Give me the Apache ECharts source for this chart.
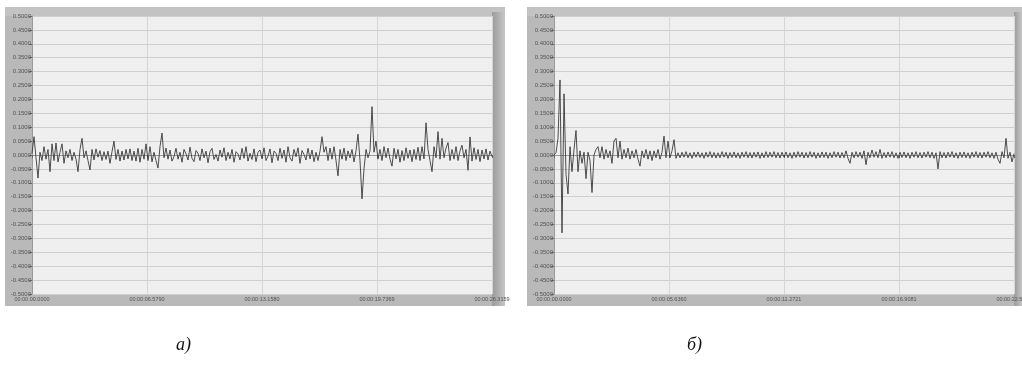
<!DOCTYPE html>
<html>
<head>
<meta charset="utf-8">
<script src="https://cdn.jsdelivr.net/npm/echarts@6/dist/echarts.min.js"></script>
<style>
html,body{margin:0;padding:0;background:#fff;}
#c{width:1022px;height:367px;}
</style>
</head>
<body>
<div id="c"></div>
<script>
// ---- data ----
const durationA = 26.3159;
const durationB = 22.5441;
const xTickLabelsA = ["00:00:00.0000","00:00:06.5790","00:00:13.1580","00:00:19.7369","00:00:26.3159"];
const xTickLabelsB = ["00:00:00.0000","00:00:05.6360","00:00:11.2721","00:00:16.9081","00:00:22.5441"];
const captions = ["а)", "б)"];
const signalA = [
 0.005, 0.066, -0.010, -0.083, 0.010, -0.020, 0.030, -0.015, 0.020, -0.060,
 0.040, -0.020, 0.043, -0.025, 0.010, 0.040, -0.030, 0.015, -0.010, 0.020,
 -0.020, 0.010, -0.015, -0.060, 0.020, 0.060, -0.010, 0.015, -0.020, -0.054,
 0.020, -0.018, 0.022, -0.008, 0.016, -0.020, 0.012, -0.016, 0.014, -0.030,
 0.012, 0.050, -0.016, 0.020, -0.022, 0.014, -0.018, 0.020, -0.014, 0.022,
 -0.020, 0.014, -0.022, 0.024, -0.026, 0.020, -0.015, 0.040, -0.020, 0.030,
 -0.025, 0.010, -0.020, -0.047, 0.030, 0.079, -0.010, 0.025, -0.015, 0.018,
 -0.022, -0.006, 0.024, -0.015, 0.010, -0.026, 0.020, 0.004, -0.018, 0.028,
 -0.012, -0.024, 0.016, 0.006, -0.020, 0.022, -0.010, 0.014, -0.028, 0.012,
 0.024, -0.016, 0.002, -0.022, 0.018, -0.008, 0.026, -0.020, 0.010, -0.014,
 0.020, -0.026, 0.012, 0.004, -0.018, 0.024, -0.012, 0.030, -0.022, 0.006,
 -0.016, 0.022, -0.024, 0.010, 0.018, -0.014, 0.026, -0.020, -0.004, 0.022,
 -0.028, 0.014, 0.006, -0.020, 0.024, -0.012, 0.018, -0.026, 0.030, -0.010,
 -0.022, 0.020, -0.006, 0.026, -0.030, 0.016, 0.002, -0.018, 0.024, -0.014,
 0.018, -0.024, 0.010, -0.020, 0.014, 0.066, 0.010, 0.030, -0.020, 0.025,
 -0.015, 0.030, -0.020, -0.075, 0.020, -0.015, 0.025, -0.020, 0.015, -0.010,
 0.020, -0.025, 0.015, 0.075, -0.020, -0.158, -0.050, 0.020, -0.010, 0.015,
 0.174, 0.010, 0.050, -0.015, 0.020, -0.020, 0.030, -0.010, 0.025, -0.015,
 -0.040, 0.024, -0.014, 0.020, -0.026, 0.016, -0.020, 0.026, -0.012, 0.018,
 -0.024, 0.020, -0.016, 0.028, -0.020, 0.030, -0.014, 0.116, 0.020, -0.020,
 -0.060, 0.030, -0.010, 0.084, -0.015, 0.060, -0.010, 0.025, 0.045, -0.020,
 0.020, -0.015, 0.030, -0.020, 0.015, 0.035, -0.010, 0.020, -0.055, 0.065,
 -0.022, 0.026, -0.016, 0.020, -0.024, 0.018, -0.014, 0.022, -0.018, 0.014,
 -0.006
];
const signalB = [
 0.000, 0.008, 0.060, 0.270, -0.280, 0.220, -0.070, -0.140, 0.030, -0.060,
 0.020, 0.088, -0.060, 0.015, -0.030, 0.010, -0.085, 0.010, -0.020, -0.135,
 0.000, 0.020, 0.030, -0.010, 0.030, -0.015, 0.020, -0.010, 0.015, -0.030,
 0.050, 0.060, -0.010, 0.050, -0.015, 0.020, -0.010, 0.025, -0.015, 0.015,
 -0.010, 0.020, -0.015, -0.040, 0.015, -0.010, 0.020, -0.015, 0.015, -0.020,
 0.015, -0.010, 0.020, -0.015, 0.010, 0.068, -0.010, 0.050, -0.010, 0.015,
 0.055, -0.012, 0.008, -0.010, 0.010, -0.008, 0.012, -0.010, 0.008, -0.012,
 0.010, -0.008, 0.011, -0.009, 0.008, -0.012, 0.010, -0.008, 0.012, -0.010,
 0.009, -0.011, 0.008, -0.010, 0.012, -0.008, 0.010, -0.012, 0.009, -0.009,
 0.011, -0.010, 0.008, -0.012, 0.010, -0.008, 0.012, -0.010, 0.009, -0.011,
 0.010, -0.008, 0.011, -0.012, 0.008, -0.010, 0.012, -0.009, 0.010, -0.008,
 0.012, -0.010, 0.009, -0.011, 0.010, -0.008, 0.011, -0.010, 0.008, -0.012,
 0.010, -0.009, 0.012, -0.008, 0.010, -0.011, 0.009, -0.010, 0.012, -0.008,
 0.010, -0.012, 0.008, -0.010, 0.011, -0.009, 0.010, -0.012, 0.008, -0.010,
 0.012, -0.008, 0.010, -0.011, 0.009, -0.010, 0.015, -0.012, -0.030, 0.010,
 -0.010, 0.012, -0.008, 0.010, -0.012, 0.015, -0.035, 0.010, -0.010, 0.018,
 -0.008, 0.012, -0.010, 0.020, -0.012, 0.009, -0.010, 0.011, -0.008, 0.012,
 -0.010, 0.008, -0.012, 0.010, -0.009, 0.011, -0.010, 0.008, -0.012, 0.010,
 -0.008, 0.012, -0.010, 0.009, -0.011, 0.010, -0.008, 0.012, -0.010, 0.010,
 -0.012, 0.008, -0.050, 0.012, -0.010, 0.009, -0.011, 0.010, -0.008, 0.012,
 -0.010, 0.008, -0.012, 0.010, -0.009, 0.011, -0.010, 0.008, -0.012, 0.010,
 -0.008, 0.012, -0.010, 0.009, -0.011, 0.010, -0.008, 0.012, -0.010, 0.008,
 -0.012, 0.010, -0.015, -0.030, 0.012, -0.010, 0.060, -0.012, 0.010, -0.025,
 0.005
];

// ---- build ----
function toPairs(arr, dur) {
  const n = arr.length;
  return arr.map((v, i) => [i * dur / (n - 1), v]);
}

const chart = echarts.init(document.getElementById('c'), null, {renderer: 'canvas'});

const labelFont = {fontFamily: 'Liberation Sans', color: '#555'};

function xAxis(idx, dur, labels) {
  const iv = dur / 4;
  return {
    type: 'value', gridIndex: idx, min: 0, max: dur, interval: iv,
    axisLine: {show: true, lineStyle: {color: '#9a9a9a', width: 1}},
    axisTick: {show: true, length: 3, lineStyle: {color: '#666'}},
    axisLabel: Object.assign({fontSize: 5.5, margin: 2, showMinLabel: true, showMaxLabel: true,
      formatter: v => labels[Math.round(v / iv)] || ''}, labelFont),
    splitLine: {show: true, lineStyle: {color: '#d6d6d6', width: 1}}
  };
}
function yAxis(idx) {
  return {
    type: 'value', gridIndex: idx, min: -0.5, max: 0.5, interval: 0.05,
    axisLine: {show: true, lineStyle: {color: '#9a9a9a', width: 1}},
    axisTick: {show: true, length: 3, lineStyle: {color: '#666'}},
    axisLabel: Object.assign({fontSize: 6, margin: 1,
      formatter: v => (Math.abs(v) < 1e-9 ? 0 : v).toFixed(4)}, labelFont),
    splitLine: {show: true, lineStyle: {color: '#cfcfcf', width: 1}}
  };
}

function frame(x, w) {
  return [
    {type: 'rect', z: -10, shape: {x: x, y: 7, width: w, height: 299}, style: {fill: '#b9b9b9'}},
    {type: 'rect', z: -9, shape: {x: x, y: 7, width: w, height: 9}, style: {fill: '#c3c3c3'}}
  ];
}
function rightBar(x, w) {
  return {type: 'rect', z: -8, shape: {x: x, y: 12, width: w, height: 294},
    style: {fill: new echarts.graphic.LinearGradient(0, 0, 1, 0, [
      {offset: 0, color: '#9c9c9c'}, {offset: 0.35, color: '#a9a9a9'}, {offset: 1, color: '#c6c6c6'}])}};
}

const option = {
  animation: false,
  backgroundColor: '#ffffff',
  grid: [
    {left: 32, top: 16, width: 460, height: 278, show: true, backgroundColor: '#efefef', borderWidth: 0, outerBoundsMode: 'none', containLabel: false},
    {left: 554, top: 16, width: 460, height: 278, show: true, backgroundColor: '#efefef', borderWidth: 0, outerBoundsMode: 'none', containLabel: false}
  ],
  xAxis: [xAxis(0, durationA, xTickLabelsA), xAxis(1, durationB, xTickLabelsB)],
  yAxis: [yAxis(0), yAxis(1)],
  graphic: [
    ...frame(5, 500), rightBar(492, 13),
    ...frame(527, 495), rightBar(1014, 8),
    {type: 'text', left: 176, top: 336, z: 10,
      style: {text: captions[0], font: 'italic 18px "Liberation Serif"', fill: '#111'}},
    {type: 'text', left: 687, top: 336, z: 10,
      style: {text: captions[1], font: 'italic 18px "Liberation Serif"', fill: '#111'}}
  ],
  series: [
    {type: 'line', xAxisIndex: 0, yAxisIndex: 0, data: toPairs(signalA, durationA),
      showSymbol: false, lineStyle: {color: '#3a3a3a', width: 0.9}},
    {type: 'line', xAxisIndex: 1, yAxisIndex: 1, data: toPairs(signalB, durationB),
      showSymbol: false, lineStyle: {color: '#3a3a3a', width: 0.9}}
  ]
};
chart.setOption(option);
</script>
</body>
</html>
